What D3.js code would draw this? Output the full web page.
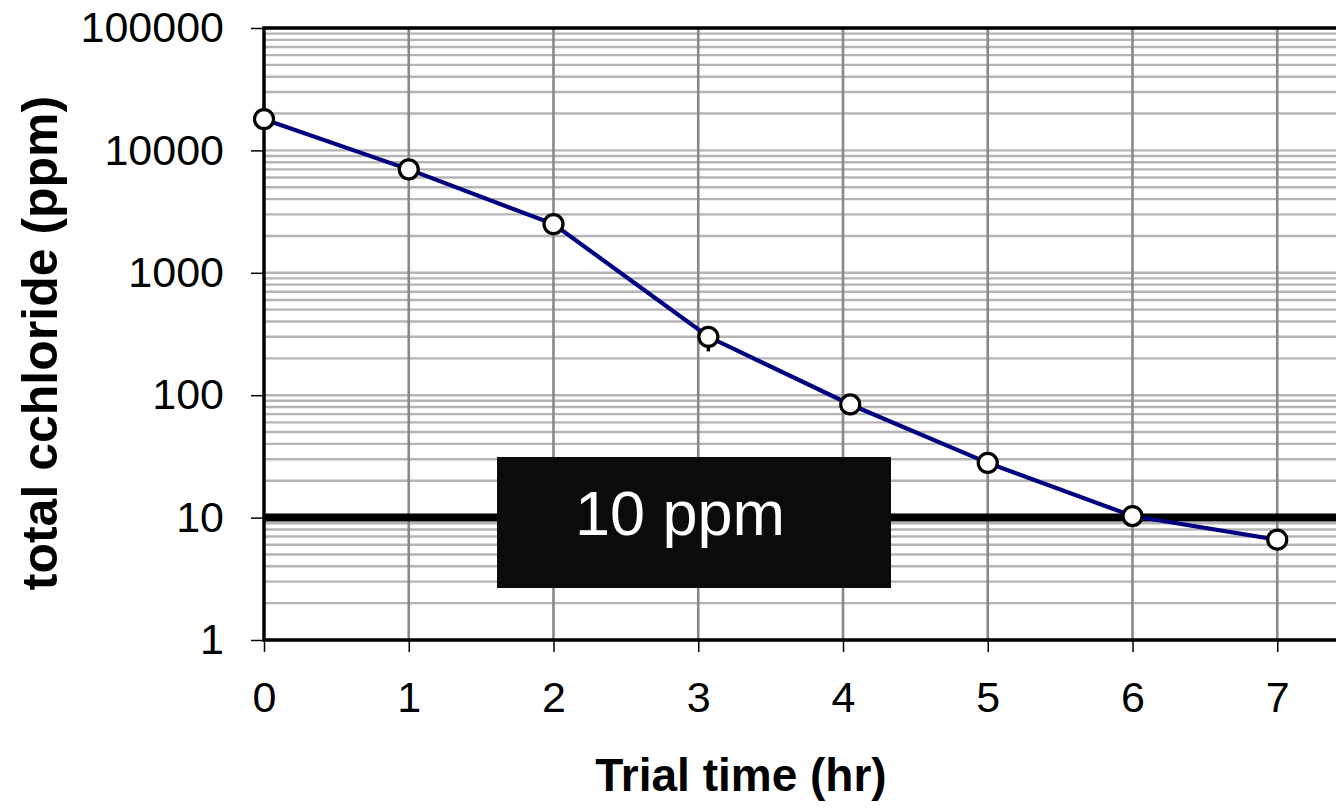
<!DOCTYPE html>
<html>
<head>
<meta charset="utf-8">
<script src="https://cdn.jsdelivr.net/npm/d3@7"></script>
<style>
  body { margin: 0; background: #fff; }
  svg { display: block; font-family: Arial, "Liberation Sans", sans-serif; }
</style>
</head>
<body>
<script>
// data
const hours = [0, 1, 2, 3.07, 4.05, 5, 6, 7];
const chloride = [18000, 7000, 2500, 300, 84, 28, 10.3, 6.6];
const errLow = [null, null, null, 228, null, null, null, null]; // little whisker under hour 3
const xTicks = [0, 1, 2, 3, 4, 5, 6, 7, 8];
const yTicks = [1, 10, 100, 1000, 10000, 100000];
const limitValue = 10;
const limitLabel = '10 ppm';

const W = 1336, H = 809;
const margin = {top: 28, left: 264};
const plotW = 1158, plotH = 612;   // right edge falls outside the picture

const svg = d3.select('body').append('svg').attr('width', W).attr('height', H);
svg.append('rect').attr('width', W).attr('height', H).attr('fill', '#fff');

const g = svg.append('g').attr('transform', `translate(${margin.left},${margin.top})`);

const x = d3.scaleLinear().domain([0, 8]).range([0, plotW]);
const y = d3.scaleLog().domain([1, 100000]).range([plotH, 0]);

// minor grid 2..9 of every decade
const minor = [];
yTicks.slice(0, -1).forEach(d => { for (let k = 2; k <= 9; k++) minor.push(d * k); });
g.selectAll('.minor').data(minor.concat(yTicks)).enter().append('line')
  .attr('x1', 0).attr('x2', plotW)
  .attr('y1', d => y(d)).attr('y2', d => y(d))
  .attr('stroke', '#b4b4b4').attr('stroke-width', 2.4);

// vertical grid
g.selectAll('.vgrid').data(xTicks.slice(1)).enter().append('line')
  .attr('x1', d => x(d)).attr('x2', d => x(d))
  .attr('y1', 0).attr('y2', plotH)
  .attr('stroke', '#888').attr('stroke-width', 2.6);

// axes
const yAxis = d3.axisLeft(y).tickValues(yTicks).tickFormat(d3.format('d'))
  .tickSize(13).tickPadding(27);
const yG = g.append('g').call(yAxis);
yG.select('.domain').remove();
yG.selectAll('.tick line').attr('stroke', '#000').attr('stroke-width', 1.5);
yG.selectAll('.tick text').attr('font-size', 43).attr('fill', '#000')
  .attr('font-family', 'Arial, "Liberation Sans", sans-serif');

const xAxis = d3.axisBottom(x).tickValues(xTicks.slice(0, -1)).tickFormat(d3.format('d'))
  .tickSize(12).tickPadding(29);
const xG = g.append('g').attr('transform', `translate(0,${plotH})`).call(xAxis);
xG.select('.domain').remove();
xG.selectAll('.tick line').attr('stroke', '#000').attr('stroke-width', 1.5);
xG.selectAll('.tick text').attr('font-size', 43).attr('fill', '#000')
  .attr('font-family', 'Arial, "Liberation Sans", sans-serif');

// plot frame (left, top, bottom)
g.append('path')
  .attr('d', `M${plotW},0H0V${plotH}H${plotW}`)
  .attr('fill', 'none').attr('stroke', '#000').attr('stroke-width', 3.5);

// 10 ppm limit
g.append('line')
  .attr('x1', 0).attr('x2', plotW)
  .attr('y1', y(limitValue)).attr('y2', y(limitValue))
  .attr('stroke', '#000').attr('stroke-width', 8);

g.append('rect')
  .attr('x', 233).attr('y', 429).attr('width', 394).attr('height', 131)
  .attr('fill', '#0b0b0b');
g.append('text').text(limitLabel)
  .attr('x', 416).attr('y', 507)
  .attr('text-anchor', 'middle').attr('font-size', 63).attr('fill', '#fff');

// series
const pts = hours.map((h, i) => ({h, v: chloride[i], lo: errLow[i]}));
const line = d3.line().x(d => x(d.h)).y(d => y(d.v));
g.append('path').datum(pts).attr('d', line)
  .attr('fill', 'none').attr('stroke', '#000080').attr('stroke-width', 4.2);

g.selectAll('.err').data(pts.filter(d => d.lo)).enter().append('line')
  .attr('x1', d => x(d.h)).attr('x2', d => x(d.h))
  .attr('y1', d => y(d.v)).attr('y2', d => y(d.lo))
  .attr('stroke', '#000').attr('stroke-width', 3.5);

g.selectAll('circle').data(pts).enter().append('circle')
  .attr('cx', d => x(d.h)).attr('cy', d => y(d.v)).attr('r', 9.5)
  .attr('fill', '#fff').attr('stroke', '#000').attr('stroke-width', 3.2);

// titles
svg.append('text').text('Trial time (hr)')
  .attr('x', 741).attr('y', 791)
  .attr('text-anchor', 'middle').attr('font-size', 46).attr('font-weight', 'bold');

svg.append('text').text('total cchloride (ppm)')
  .attr('transform', 'translate(57,343) rotate(-90)')
  .attr('text-anchor', 'middle').attr('font-size', 50).attr('font-weight', 'bold');
</script>
</body>
</html>
